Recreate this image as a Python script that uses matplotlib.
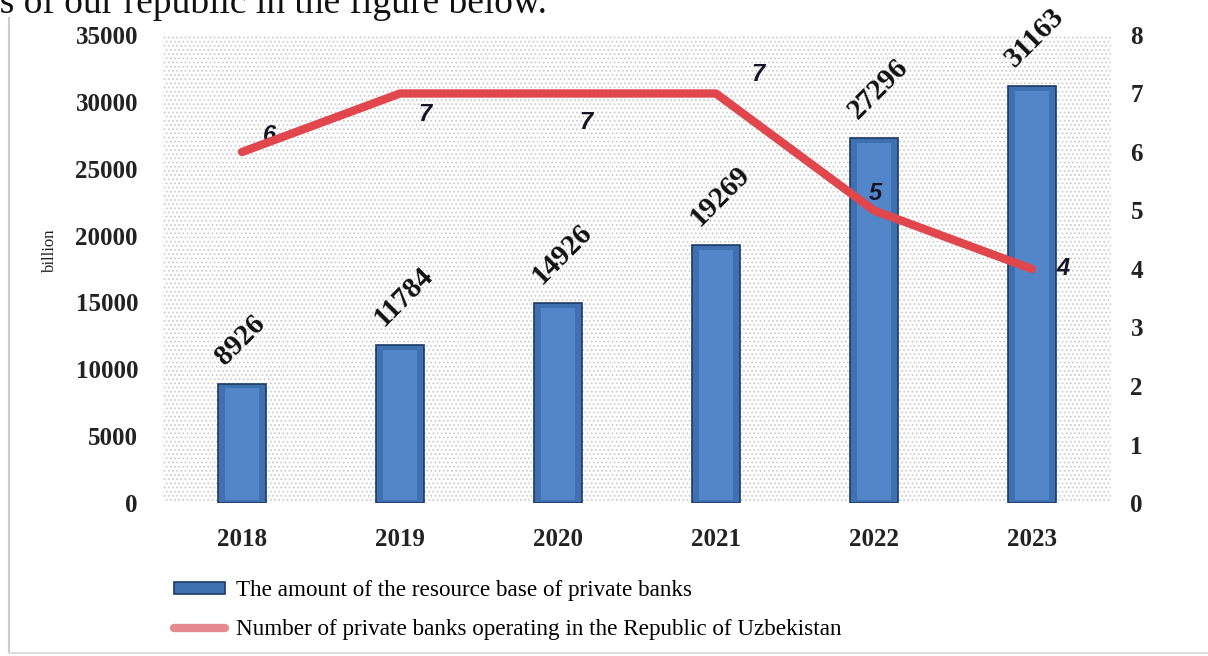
import matplotlib
matplotlib.use('Agg')
import matplotlib.pyplot as plt
from matplotlib.lines import Line2D

years = ['2018', '2019', '2020', '2021', '2022', '2023']
resource_base = [8926, 11784, 14926, 19269, 27296, 31163]
bank_count = [6, 7, 7, 7, 5, 4]

bar_label = 'The amount of the resource base of private banks'
line_label = 'Number of private banks operating in the Republic of Uzbekistan'

plt.rcParams['font.family'] = ['Liberation Serif', 'DejaVu Serif']
plt.rcParams['hatch.color'] = '#cdcdcd'
plt.rcParams['hatch.linewidth'] = 0.8

fig = plt.figure(figsize=(12.08, 6.56), dpi=100)
ax = fig.add_axes([163 / 1208, 153 / 656, 948 / 1208, 468 / 656])
ax2 = ax.twinx()

# dotted background
ax.patch.set_facecolor('white')
ax.patch.set_hatch('....')
ax.patch.set_edgecolor('#cdcdcd')
ax.patch.set_linewidth(0)

x = list(range(len(years)))

bars = ax.bar(x, resource_base, width=0.31, color='#3f70b0', edgecolor='#1d3a66',
              linewidth=1.2, zorder=2, label=bar_label)
# lighter inner face to fake the bevel
ax.bar(x, [v - 550 for v in resource_base], width=0.22, bottom=200, color='#5386c8',
       linewidth=0, zorder=3)

for xi, v in zip(x, resource_base):
    ax.annotate(str(v), (xi, v), xytext=(-9, 10), textcoords='offset points',
                rotation=45, rotation_mode='anchor', ha='left', va='bottom',
                fontsize=21, fontweight='bold', color='#111111', zorder=6)

line, = ax2.plot(x, bank_count, color='#e0464b', lw=6, solid_joinstyle='round',
                 solid_capstyle='round', zorder=4, label=line_label)

# label offsets for the line values (points)
offs = [(20, 12), (18, -15), (20, -21), (30, 14), (1, 12), (22, 0)]
for xi, v, o in zip(x, bank_count, offs):
    ax2.annotate(str(v), (xi, v), xytext=o, textcoords='offset points',
                 ha='center', va='center', fontsize=17, fontweight='bold',
                 fontstyle='italic', color='#151528', family=['Liberation Sans'])

ax.set_xlim(-0.5, len(years) - 0.5)
ax.set_ylim(0, 35000)
ax2.set_ylim(0, 8)
ax.set_yticks(range(0, 35001, 5000))
ax2.set_yticks(range(0, 9))
ax.set_xticks(x)
ax.set_xticklabels(years)

ax2.patch.set_visible(False)
ax.set_zorder(1)
ax2.set_zorder(2)

for a in (ax, ax2):
    for s in a.spines.values():
        s.set_visible(False)
    a.tick_params(length=0, labelsize=18, labelcolor='#222222')
    for t in a.get_xticklabels() + a.get_yticklabels():
        t.set_fontweight('bold')
ax.tick_params(axis='y', pad=18)
ax.tick_params(axis='x', pad=18)
ax2.tick_params(axis='y', pad=14)

fig.text(50 / 1208, 1 - 250 / 656, 'billion', rotation=90, ha='center', va='center',
         fontsize=12, color='#222222')

leg = fig.legend(handles=[bars, line], loc='center left',
                 bbox_to_anchor=(153 / 1208, 1 - 610 / 656), frameon=False,
                 fontsize=16.7, handlelength=2.2, handleheight=0.4, labelspacing=0.75,
                 handletextpad=0.5)
leg.legend_handles[1].set_color('#e58a90')

# text from the page above the chart, cut at the top
fig.text(-0.016, 1 - 13 / 656, 'ks of our republic in the figure below.', ha='left',
         va='baseline', fontsize=27, color='#111111')

# thin frame around the pasted chart
fig.add_artist(Line2D([9 / 1208, 9 / 1208], [3 / 656, 1 - 18 / 656], color='#cccccc', lw=1.5))
fig.add_artist(Line2D([9 / 1208, 1], [3 / 656, 3 / 656], color='#dddddd', lw=1.5))

fig.savefig('out.png', dpi=100)
